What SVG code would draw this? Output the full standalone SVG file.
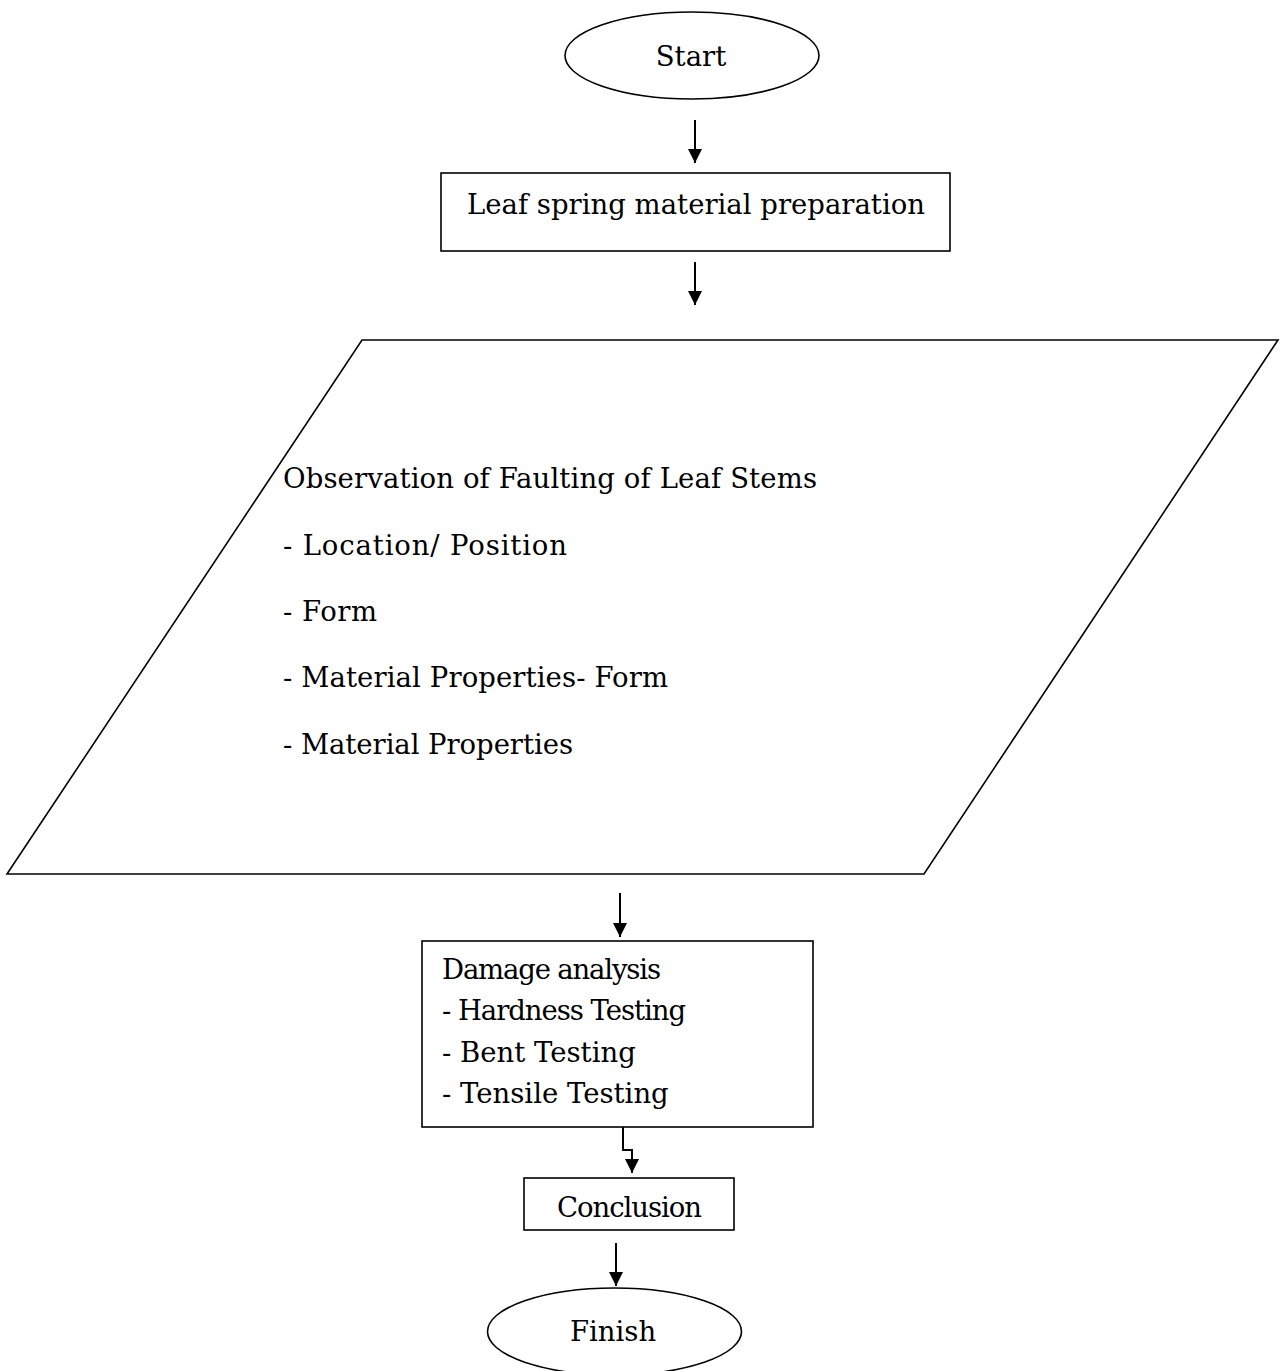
<svg xmlns="http://www.w3.org/2000/svg" width="1280" height="1371" viewBox="0 0 1280 1371">
<defs>
<style>
.shape{fill:#fff;stroke:#000;stroke-width:1.6}
.t{font-family:"DejaVu Serif","Liberation Serif",serif;font-size:27.5px;fill:#000}
.c{text-anchor:middle}
.conn{fill:none;stroke:#000;stroke-width:2}
</style>
<marker id="ah" markerUnits="userSpaceOnUse" markerWidth="14" markerHeight="14" refX="14" refY="7" orient="auto">
<path d="M0,0 L14,7 L0,14 z" fill="#000"/>
</marker>
</defs>
<rect width="1280" height="1371" fill="#fff"/>
<g id="start">
<ellipse class="shape" cx="692" cy="55.5" rx="127" ry="43.5"/>
<text class="t c" x="691" y="66">Start</text>
</g>
<g id="prep">
<rect class="shape" x="441" y="173" width="509" height="78"/>
<text class="t" x="467" y="214" textLength="458">Leaf spring material preparation</text>
</g>
<g id="observation">
<polygon class="shape" points="362,340 1278,340 924,874 7,874"/>
<text class="t" x="283" y="488" textLength="534">Observation of Faulting of Leaf Stems</text>
<text class="t" x="283" y="555" textLength="284">- Location/ Position</text>
<text class="t" x="283" y="621" textLength="94">- Form</text>
<text class="t" x="283" y="687" textLength="385">- Material Properties- Form</text>
<text class="t" x="283" y="754" textLength="290">- Material Properties</text>
</g>
<g id="damage">
<rect class="shape" x="422" y="941" width="391" height="186"/>
<text class="t" x="442" y="979" textLength="219">Damage analysis</text>
<text class="t" x="442" y="1020" textLength="244">- Hardness Testing</text>
<text class="t" x="442" y="1062">- Bent Testing</text>
<text class="t" x="442" y="1103">- Tensile Testing</text>
</g>
<g id="conclusion">
<rect class="shape" x="524" y="1178" width="210" height="52"/>
<text class="t c" x="629.5" y="1217" textLength="145">Conclusion</text>
</g>
<g id="finish">
<ellipse class="shape" cx="614.5" cy="1331.5" rx="127" ry="43.5"/>
<text class="t c" x="613" y="1341">Finish</text>
</g>
<g id="connectors">
<path class="conn" d="M695,120 V163" marker-end="url(#ah)"/>
<path class="conn" d="M695,262 V305" marker-end="url(#ah)"/>
<path class="conn" d="M620,893 V937" marker-end="url(#ah)"/>
<path class="conn" d="M623,1127 V1150 H632 V1173" marker-end="url(#ah)"/>
<path class="conn" d="M616,1243 V1286" marker-end="url(#ah)"/>
</g>
</svg>
